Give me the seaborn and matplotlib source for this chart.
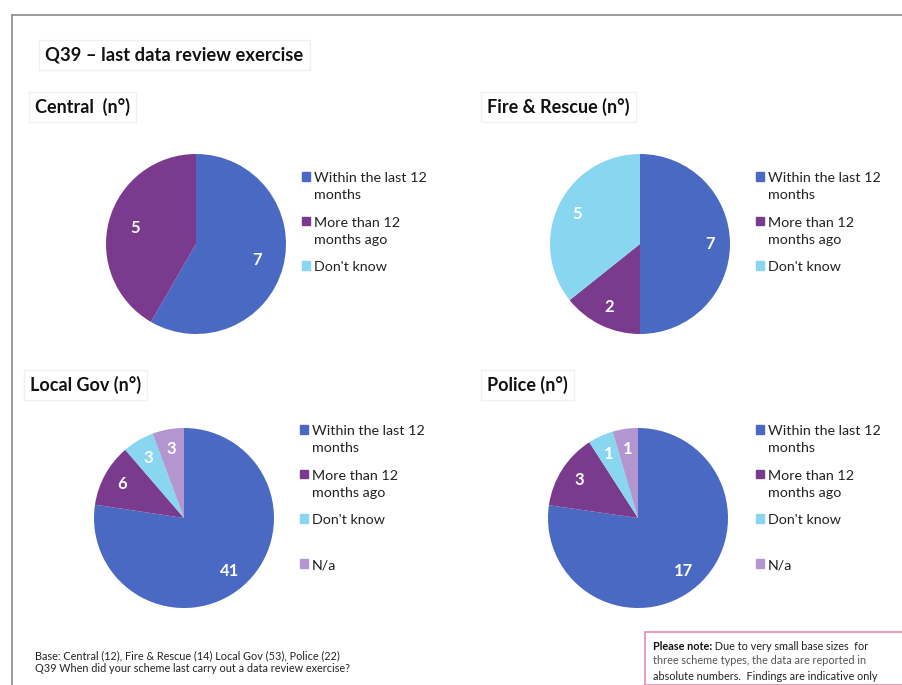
import matplotlib
matplotlib.use("Agg")
import matplotlib.pyplot as plt
import matplotlib.patches as mpatches
import seaborn as sns

# data
categories = ["Within the last 12\nmonths", "More than 12\nmonths ago", "Don't know", "N/a"]
central = [7, 5, 0]
fire_rescue = [7, 2, 5]
local_gov = [41, 6, 3, 3]
police = [17, 3, 1, 1]
panel_titles = ["Central  (n°)", "Fire & Rescue (n°)", "Local Gov (n°)", "Police (n°)"]

colors = ["#4a69c2", "#7a3a8e", "#88d6f0", "#b395cf"]

sns.set_style("white")
plt.rcParams["font.family"] = ["Lato", "DejaVu Sans"]

W, H = 903, 685
fig = plt.figure(figsize=(W / 100, H / 100), dpi=100)


def px_axes(cx, cy, r):
    return fig.add_axes([(cx - r) / W, 1 - (cy + r) / H, 2 * r / W, 2 * r / H])


def draw_pie(cx, cy, values, legend_xy, gap_last=False, dist=0.78):
    ax = px_axes(cx, cy, 90)
    vals = list(values)
    ax.pie(vals, colors=colors[:len(vals)], startangle=90, counterclock=False,
           autopct=lambda p: "" if p == 0 else "%d" % round(p * sum(vals) / 100),
           pctdistance=dist, wedgeprops=dict(linewidth=0),
           textprops=dict(color="white", fontsize=12, fontweight="bold"))
    ax.set_xlim(-1, 1)
    ax.set_ylim(-1, 1)
    labs = categories[:len(vals)]
    if gap_last:
        labs = labs[:-2] + [labs[-2] + "\n ", labs[-1]]
    handles = [mpatches.Patch(color=c) for c in colors[:len(vals)]]
    leg = fig.legend(handles, labs, loc="upper left",
                     bbox_to_anchor=(legend_xy[0] / W, 1 - legend_xy[1] / H),
                     frameon=False, fontsize=10.3, handlelength=0.55, handleheight=0.55,
                     handletextpad=0.3, labelspacing=1.1, borderaxespad=0, borderpad=0)
    for t in leg.get_texts():
        t.set_linespacing(1.5)
        t.set_color("#222222")
    # keep the square next to the first line of each label
    for col in leg._legend_handle_box.get_children():
        for item in col.get_children():
            item.align = "top"
    return ax


draw_pie(196, 244, central, (302, 172), dist=0.7)
draw_pie(640, 244, fire_rescue, (756, 172))
draw_pie(184, 518, local_gov, (300, 425), gap_last=True)
draw_pie(638, 518, police, (756, 425), gap_last=True)

# outer frame
fig.add_artist(plt.Line2D([12 / W, 1], [1 - 15 / H] * 2, color="#8a8a8a", lw=1.2))
fig.add_artist(plt.Line2D([12 / W] * 2, [0, 1 - 15 / H], color="#8a8a8a", lw=1.2))

box = dict(facecolor="white", edgecolor="#f0f0f0", boxstyle="square,pad=0.35", lw=1)
fig.text(45 / W, 1 - 55 / H, "Q39 – last data review exercise", fontsize=13.2,
         fontweight="bold", va="center", color="#111111", bbox=box)
title_pos = [(35, 107), (487, 107), (30, 385), (487, 385)]
for (x, y), t in zip(title_pos, panel_titles):
    fig.text(x / W, 1 - y / H, t, fontsize=13, fontweight="bold", va="center",
             color="#111111", bbox=box)

narrow = ["Liberation Sans Narrow", "Lato"]
fs = 7.8
fig.text(35 / W, 1 - 656 / H, "Base: Central (12), Fire & Rescue (14) Local Gov (53), Police (22)",
         fontsize=fs, family=narrow, va="center", color="#222222")
fig.text(35 / W, 1 - 668 / H, "Q39 When did your scheme last carry out a data review exercise?",
         fontsize=fs, family=narrow, va="center", color="#222222")

fig.add_artist(mpatches.Rectangle((645 / W, 0), 1 - 645 / W, 53 / H, transform=fig.transFigure,
                                  facecolor="white", edgecolor="#e58aa8", lw=1.2))
pn = fig.text(653 / W, 1 - 646 / H, "Please note:", fontsize=fs, family=narrow,
              fontweight="bold", va="center", color="#111111")
fig.canvas.draw()
bb = pn.get_window_extent()
fig.text(bb.x1 / W, 1 - 646 / H, " Due to very small base sizes  for", fontsize=fs,
         family=narrow, va="center", color="#222222")
fig.text(653 / W, 1 - 661 / H, "three scheme types, the data are reported in", fontsize=fs,
         family=narrow, va="center", color="#555555")
fig.text(653 / W, 1 - 676 / H, "absolute numbers.  Findings are indicative only", fontsize=fs,
         family=narrow, va="center", color="#222222")

fig.savefig("out.png", dpi=100)
